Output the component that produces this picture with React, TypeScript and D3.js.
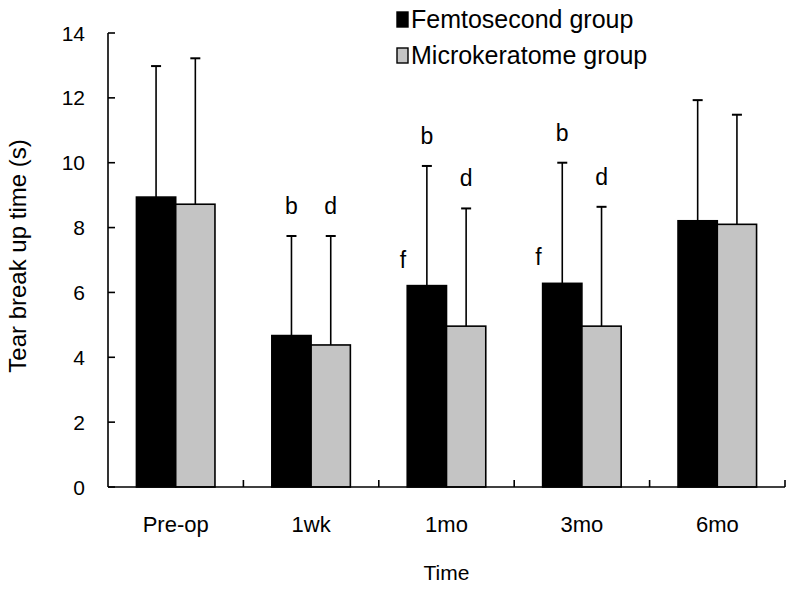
import * as d3 from "d3";

const categories = ["Pre-op", "1wk", "1mo", "3mo", "6mo"];
const seriesNames = ["Femtosecond group", "Microkeratome group"];
const femtoMean = [8.94, 4.67, 6.21, 6.28, 8.21];
const femtoSD = [4.04, 3.07, 3.69, 3.72, 3.72];
const microMean = [8.72, 4.38, 4.96, 4.96, 8.1];
const microSD = [4.5, 3.36, 3.63, 3.68, 3.38];
const yTicks = [0, 2, 4, 6, 8, 10, 12, 14];

// significance letters: above whisker ("top") or left of bar ("side")
const letters = [
  { cat: "1wk", series: 0, text: "b", at: "top" },
  { cat: "1wk", series: 1, text: "d", at: "top" },
  { cat: "1mo", series: 0, text: "b", at: "top" },
  { cat: "1mo", series: 1, text: "d", at: "top" },
  { cat: "1mo", series: 0, text: "f", at: "side" },
  { cat: "3mo", series: 0, text: "b", at: "top" },
  { cat: "3mo", series: 1, text: "d", at: "top" },
  { cat: "3mo", series: 0, text: "f", at: "side" },
];

const W = 794;
const H = 589;
const M = { left: 108, right: 9, top: 33, bottom: 102 };
const FILLS = ["#000000", "#c4c4c4"];
const FONT = "'Liberation Sans', Arial, sans-serif";

export default function App() {
  const x = d3
    .scaleBand<string>()
    .domain(categories)
    .range([M.left, W - M.right])
    .paddingInner(0.42)
    .paddingOuter(0.21);
  const x1 = d3.scaleBand<number>().domain([0, 1]).range([0, x.bandwidth()]);
  const y = d3.scaleLinear().domain([0, 14]).range([H - M.bottom, M.top]);

  const means = [femtoMean, microMean];
  const sds = [femtoSD, microSD];
  const step = x.step();
  const y0 = y(0);

  return (
    <svg
      width={W}
      height={H}
      style={{ position: "absolute", left: 0, top: 0, background: "#fff" }}
      fontFamily={FONT}
    >
      {/* bars + error bars */}
      {categories.map((c, i) =>
        [0, 1].map((s) => {
          const bx = (x(c) ?? 0) + (x1(s) ?? 0);
          const bw = x1.bandwidth();
          const top = y(means[s][i]);
          const cx = bx + bw / 2;
          const et = y(means[s][i] + sds[s][i]);
          return (
            <g key={c + s}>
              <line x1={cx} x2={cx} y1={top} y2={et} stroke="#000" strokeWidth={1.6} />
              <line x1={cx - 5} x2={cx + 5} y1={et} y2={et} stroke="#000" strokeWidth={2} />
              <rect
                x={bx}
                y={top}
                width={bw}
                height={y0 - top}
                fill={FILLS[s]}
                stroke="#000"
                strokeWidth={1.6}
              />
            </g>
          );
        })
      )}

      {/* letters */}
      {letters.map((l, k) => {
        const i = categories.indexOf(l.cat);
        const bx = (x(l.cat) ?? 0) + (x1(l.series) ?? 0);
        const bw = x1.bandwidth();
        if (l.at === "top") {
          const et = y(means[l.series][i] + sds[l.series][i]);
          return (
            <text key={k} x={bx + bw / 2} y={et - 22} textAnchor="middle" fontSize={23}>
              {l.text}
            </text>
          );
        }
        return (
          <text key={k} x={bx - 1} y={y(means[l.series][i]) - 18} textAnchor="end" fontSize={23}>
            {l.text}
          </text>
        );
      })}

      {/* y axis */}
      <line x1={M.left} x2={M.left} y1={y(14)} y2={y0} stroke="#000" strokeWidth={1.6} />
      {yTicks.map((t) => (
        <g key={t}>
          <line x1={M.left} x2={M.left + 7} y1={y(t)} y2={y(t)} stroke="#000" strokeWidth={1.6} />
          <text x={M.left - 23} y={y(t)} dy="0.36em" textAnchor="end" fontSize={21}>
            {t}
          </text>
        </g>
      ))}

      {/* x axis */}
      <line x1={M.left} x2={W - M.right} y1={y0} y2={y0} stroke="#000" strokeWidth={1.6} />
      {categories.map((c, i) => {
        const bx = M.left + step * (i + 1);
        return (
          <g key={c}>
            <line x1={bx} x2={bx} y1={y0} y2={y0 - 7} stroke="#000" strokeWidth={1.6} />
            <text
              x={(x(c) ?? 0) + x.bandwidth() / 2}
              y={y0 + 45}
              textAnchor="middle"
              fontSize={22}
            >
              {c}
            </text>
          </g>
        );
      })}

      {/* axis titles */}
      <text x={(M.left + W - M.right) / 2} y={H - 9} textAnchor="middle" fontSize={21}>
        Time
      </text>
      <text
        transform={`translate(26,${(y0 + y(14)) / 2 - 4}) rotate(-90)`}
        textAnchor="middle"
        fontSize={24}
      >
        Tear break up time (s)
      </text>

      {/* legend */}
      {seriesNames.map((n, s) => (
        <g key={n} transform={`translate(397,${28 + s * 36})`}>
          <rect x={0} y={-16} width={11} height={15} fill={FILLS[s]} stroke="#000" strokeWidth={1.4} />
          <text x={14} y={0} fontSize={25}>
            {n}
          </text>
        </g>
      ))}
    </svg>
  );
}
